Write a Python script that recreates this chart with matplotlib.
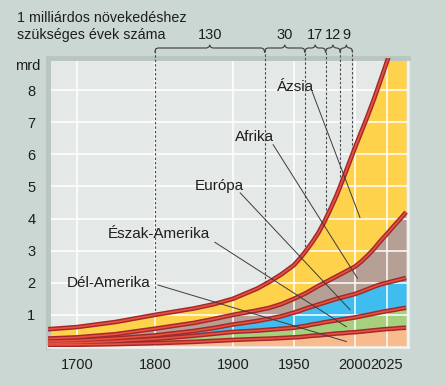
import numpy as np
import matplotlib
matplotlib.use("Agg")
import matplotlib.pyplot as plt
from matplotlib.transforms import IdentityTransform

plt.rcParams['font.family'] = ['Liberation Sans', 'DejaVu Sans']

# ---------------- data (billions) ----------------
years = [1650, 1700, 1750, 1800, 1850, 1875, 1900, 1920, 1930, 1940,
         1950, 1955, 1960, 1965, 1970, 1975, 1980, 1985, 1990, 1995,
         2000, 2005, 2010, 2015, 2020, 2025, 2030, 2035, 2040]
del_amerika = [0.06, 0.07, 0.09, 0.12, 0.16, 0.19, 0.22, 0.25, 0.26, 0.28,
               0.30, 0.31, 0.33, 0.35, 0.36, 0.38, 0.40, 0.42, 0.43, 0.45,
               0.46, 0.48, 0.50, 0.52, 0.54, 0.56, 0.57, 0.59, 0.60]
eszak_amerika = [0.05, 0.06, 0.09, 0.13, 0.19, 0.22, 0.25, 0.26, 0.28, 0.29,
                 0.30, 0.32, 0.33, 0.35, 0.37, 0.39, 0.40, 0.41, 0.43, 0.44,
                 0.46, 0.48, 0.50, 0.52, 0.54, 0.56, 0.58, 0.60, 0.62]
europa = [0.06, 0.07, 0.09, 0.11, 0.15, 0.18, 0.23, 0.30, 0.34, 0.39,
          0.47, 0.50, 0.54, 0.56, 0.59, 0.61, 0.64, 0.67, 0.69, 0.71,
          0.73, 0.76, 0.80, 0.84, 0.87, 0.88, 0.90, 0.91, 0.93]
afrika = [0.08, 0.10, 0.13, 0.21, 0.25, 0.28, 0.30, 0.33, 0.34, 0.38,
          0.43, 0.46, 0.48, 0.53, 0.58, 0.62, 0.66, 0.70, 0.75, 0.80,
          0.85, 0.94, 1.05, 1.18, 1.35, 1.52, 1.70, 1.87, 2.05]
azsia = [0.28, 0.32, 0.38, 0.43, 0.45, 0.46, 0.50, 0.68, 0.81, 0.93,
         1.05, 1.17, 1.32, 1.47, 1.65, 1.90, 2.20, 2.52, 2.90, 3.30,
         3.70, 4.04, 4.35, 4.67, 5.00, 5.36, 5.75, 6.18, 6.60]

layer_names = ["Dél-Amerika", "Észak-Amerika", "Európa", "Afrika", "Ázsia"]
layer_colors = ["#f8bb8e", "#a6cf7e", "#3fbdef", "#b6a096", "#ffd24c"]

# years at which world population reached 1..6 billion
billion_years = [1800, 1926, 1959, 1976, 1988, 1998]
billion_values = [1, 2, 3, 4, 5, 6]
gap_labels = ["130", "30", "17", "12", "9"]

xtick_years = [1700, 1800, 1900, 1950, 2000, 2025]
ytick_values = [1, 2, 3, 4, 5, 6, 7, 8]

# label placement (year, value), leader start and leader end (year, value)
label_pos = {
    "Ázsia": (1951, 8.1, 1965, 7.95, 2004, 4.03),
    "Afrika": (1918, 6.55, 1933, 6.3, 2002, 2.14),
    "Európa": (1883, 5.0, 1906, 4.8, 1996, 1.16),
    "Észak-Amerika": (1805, 3.53, 1877, 3.26, 1993, 0.63),
    "Dél-Amerika": (1741, 2.0, 1804, 1.93, 1993, 0.17),
}

# ---------------- non-linear time axis ----------------
anchor_years = np.array([1600, 1700, 1800, 1900, 1950, 2000, 2025, 2100], float)
anchor_pos = np.array([-1, 77, 155, 233, 294, 355, 387, 483], float)


def fwd(x):
    return np.interp(x, anchor_years, anchor_pos)


def inv(p):
    return np.interp(p, anchor_pos, anchor_years)


W, H = 446, 386
fig = plt.figure(figsize=(W / 100, H / 100), dpi=100)
fig.patch.set_facecolor("#cbd7d3")
ax = fig.add_axes([48 / W, (H - 347) / H, 360 / W, 289 / H])
ax.set_facecolor("#e4e8e7")
ax.set_xscale("function", functions=(fwd, inv))
ax.set_xlim(1663, 2041.5)
ax.set_ylim(0, 9)

# stacked fills
layers = [del_amerika, eszak_amerika, europa, afrika, azsia]
cum = np.cumsum(np.array(layers), axis=0)
lower = np.zeros(len(years))
for i, c in enumerate(layer_colors):
    ax.fill_between(years, lower, cum[i], color=c, lw=0, zorder=1)
    lower = cum[i]

# grid (white, over fills)
for v in ytick_values:
    ax.axhline(v, color="white", lw=1.1, zorder=2)
for yv in xtick_years:
    ax.axvline(yv, color="white", lw=1.1, zorder=2)

# dashed billion markers
for yr, v in zip(billion_years, billion_values):
    ax.plot([yr, yr], [v, 9.3], color="#4a4a4a", lw=0.8,
            ls=(0, (2.2, 1.8)), zorder=2.6, clip_on=False)

# boundary bands
for i in range(len(layers)):
    ax.plot(years, cum[i], color="#a3272b", lw=3.3, zorder=3,
            solid_capstyle="butt", solid_joinstyle="round")
    ax.plot(years, cum[i], color="#e5533f", lw=1.2, zorder=3.1,
            solid_capstyle="butt", solid_joinstyle="round")

# leader lines + labels
for name in layer_names[::-1]:
    lx, ly, sx, sy, ex, ey = label_pos[name]
    ax.plot([sx, ex], [sy, ey], color="#3c3c3c", lw=0.7, zorder=5)
    ax.text(lx, ly, name, ha="center", va="center", fontsize=11,
            color="#1e1e1e", zorder=6)

# axes ticks
ax.set_xticks(xtick_years)
ax.set_xticklabels([str(y) for y in xtick_years])
ax.set_yticks(ytick_values)
ax.tick_params(length=0, labelsize=10.5, colors="#1e1e1e")
ax.tick_params(axis="x", pad=8)
ax.tick_params(axis="y", pad=9)
ax.grid(False)
for side in ("left", "top"):
    ax.spines[side].set_color("#b8c5c1")
    ax.spines[side].set_linewidth(3.5)
for side in ("right", "bottom"):
    ax.spines[side].set_color("#f2f4f3")
    ax.spines[side].set_linewidth(1.8)

# header texts
fig.text(17 / W, 1 - 18 / H, "1 milliárdos növekedéshez", fontsize=10.3,
         va="center", ha="left", color="#1e1e1e")
fig.text(17 / W, 1 - 35 / H, "szükséges évek száma", fontsize=10.3,
         va="center", ha="left", color="#1e1e1e")
fig.text(40 / W, 1 - 66 / H, "mrd", fontsize=10.5, va="center", ha="right",
         color="#1e1e1e")

# braces between billion years (drawn in display pixels)
fig.canvas.draw()
ident = IdentityTransform()
yb = H - 48
for k in range(len(gap_labels)):
    x1 = ax.transData.transform((billion_years[k], 0))[0]
    x2 = ax.transData.transform((billion_years[k + 1], 0))[0]
    xm = 0.5 * (x1 + x2)
    d = min(3.0, (x2 - x1) / 5)
    xs = [x1, x1 + d * 0.3, x1 + d, xm - d, xm - d * 0.3, xm,
          xm + d * 0.3, xm + d, x2 - d, x2 - d * 0.3, x2]
    ys = [yb - 4, yb - 1, yb, yb, yb + 1, yb + 3,
          yb + 1, yb, yb, yb - 1, yb - 4]
    ax.plot(xs, ys, color="#3c3c3c", lw=0.8, transform=ident, clip_on=False)
    fig.text(xm / W, (H - 35) / H, gap_labels[k], fontsize=10.5,
             ha="center", va="center", color="#1e1e1e")

fig.savefig("out.png", dpi=100, facecolor=fig.get_facecolor())
